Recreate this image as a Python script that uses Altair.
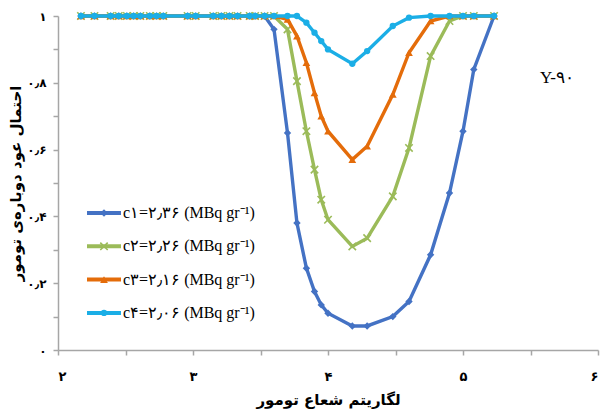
import altair as alt
import pandas as pd

# log tumour radius (x) shared by all series
x_vals = [2.17, 2.27, 2.39, 2.45, 2.51, 2.56, 2.61, 2.68, 2.73, 2.78, 2.96, 3.02,
          3.15, 3.21, 3.27, 3.33, 3.42, 3.46, 3.53, 3.60, 3.70, 3.77, 3.84, 3.90,
          3.95, 4.00, 4.18, 4.29, 4.48, 4.60, 4.76, 4.90, 5.00, 5.08, 5.23]
ones = [1.0] * 19
c1_vals = ones + [0.96, 0.65, 0.38, 0.245, 0.175, 0.135, 0.11, 0.072, 0.072, 0.10,
                  0.145, 0.285, 0.47, 0.655, 0.84, 1.0]
c2_vals = ones + [1.0, 0.96, 0.805, 0.655, 0.54, 0.45, 0.39, 0.31, 0.335, 0.46,
                  0.605, 0.88, 0.985, 1.0, 1.0, 1.0]
c3_vals = ones + [1.0, 0.99, 0.94, 0.86, 0.77, 0.70, 0.655, 0.57, 0.61, 0.765,
                  0.89, 0.985, 1.0, 1.0, 1.0, 1.0]
c4_vals = ones + [1.0, 1.0, 1.0, 0.98, 0.95, 0.925, 0.9, 0.857, 0.895, 0.97,
                  0.995, 1.0, 1.0, 1.0, 1.0, 1.0]

series_labels = ["c۱=۲٫۳۶ (MBq gr⁻¹)", "c۲=۲٫۲۶ (MBq gr⁻¹)",
                 "c۳=۲٫۱۶ (MBq gr⁻¹)", "c۴=۲٫۰۶ (MBq gr⁻¹)"]
series_values = [c1_vals, c2_vals, c3_vals, c4_vals]
colors = ["#4472C4", "#9BBB59", "#E46C0A", "#1BAEE6"]
shapes = ["diamond", "M-1,-1L1,1M-1,1L1,-1", "triangle-up", "circle"]
filled = [True, False, True, True]
sizes = [55, 55, 60, 40]

x_ticks = [2, 2.5, 3, 3.5, 4, 4.5, 5, 5.5, 6]
x_tick_labels = {2: "۲", 3: "۳", 4: "۴", 5: "۵", 6: "۶"}
y_ticks = [0, 0.1, 0.2, 0.3, 0.4, 0.5, 0.6, 0.7, 0.8, 0.9, 1.0]
y_tick_labels = {0: "۰", 2: "۰٫۲", 4: "۰٫۴", 6: "۰٫۶", 8: "۰٫۸", 10: "۱"}

x_expr = "".join(f"round(datum.value*10)=={int(k*10)} ? '{v}' : " for k, v in x_tick_labels.items()) + "''"
y_expr = "".join(f"round(datum.value*10)=={k} ? '{v}' : " for k, v in y_tick_labels.items()) + "''"

FA = "DejaVu Sans"

x_enc = alt.X("x:Q", scale=alt.Scale(domain=[2, 6], nice=False),
              axis=alt.Axis(values=x_ticks, labelExpr=x_expr, grid=False,
                            title="لگاریتم شعاع تومور", titleFont=FA, titleFontSize=15,
                            titleFontWeight="bold", titleColor="#000", titlePadding=9,
                            labelFont=FA, labelFontSize=13, labelFontWeight="bold",
                            labelColor="#000", labelPadding=15,
                            domainColor="#A6A6A6", domainWidth=1.5,
                            tickColor="#A6A6A6", tickWidth=1.5, tickSize=5))
y_enc = alt.Y("y:Q", scale=alt.Scale(domain=[0, 1], nice=False),
              axis=alt.Axis(values=y_ticks, labelExpr=y_expr, grid=False,
                            title="احتمال عود دوباره‌ی تومور", titleFont=FA, titleFontSize=15,
                            titleFontWeight="bold", titleColor="#000", titlePadding=3,
                            labelFont=FA, labelFontSize=12, labelFontWeight="bold",
                            labelColor="#000", labelPadding=7,
                            domainColor="#A6A6A6", domainWidth=1.5,
                            tickColor="#A6A6A6", tickWidth=1.5, tickSize=5))

layers = []
legend_layers = []
for i, (lab, vals) in enumerate(zip(series_labels, series_values)):
    df = pd.DataFrame({"x": x_vals, "y": vals, "o": list(range(len(x_vals)))})
    base = alt.Chart(df)
    line = base.mark_line(color=colors[i], strokeWidth=3.4).encode(
        x=x_enc, y=y_enc, order="o:Q")
    pts = base.mark_point(shape=shapes[i], filled=filled[i], color=colors[i],
                          size=sizes[i], opacity=1,
                          strokeWidth=1.6 if not filled[i] else 1).encode(x=x_enc, y=y_enc)
    layers += [line, pts]

    ldf = pd.DataFrame({"label": [lab]})
    yy = 197 + i * 33.3
    lb = alt.Chart(ldf)
    legend_layers += [
        lb.mark_rule(color=colors[i], strokeWidth=4).encode(
            x=alt.value(29), x2=alt.value(63), y=alt.value(yy)),
        lb.mark_point(shape=shapes[i], filled=filled[i], color=colors[i], size=sizes[i],
                      opacity=1, strokeWidth=1.6 if not filled[i] else 1).encode(
            x=alt.value(46), y=alt.value(yy)),
        lb.mark_text(align="left", baseline="middle", font="Liberation Serif",
                     fontSize=16, color="#000").encode(
            x=alt.value(65), y=alt.value(yy), text="label:N"),
    ]

ann = alt.Chart(pd.DataFrame({"t": ["Y-۹۰"]})).mark_text(
    font="Liberation Serif", fontSize=17, color="#000", align="center", baseline="middle"
).encode(x=alt.value(499), y=alt.value(62), text="t:N")

chart = alt.layer(*layers, *legend_layers, ann).properties(
    width=540, height=334,
    autosize=alt.AutoSizeParams(type="none"),
    padding={"left": 50, "top": 8, "right": 8, "bottom": 60},
).configure_view(stroke=None)

chart.save("out.html", embed_options={"renderer": "svg", "actions": False})
